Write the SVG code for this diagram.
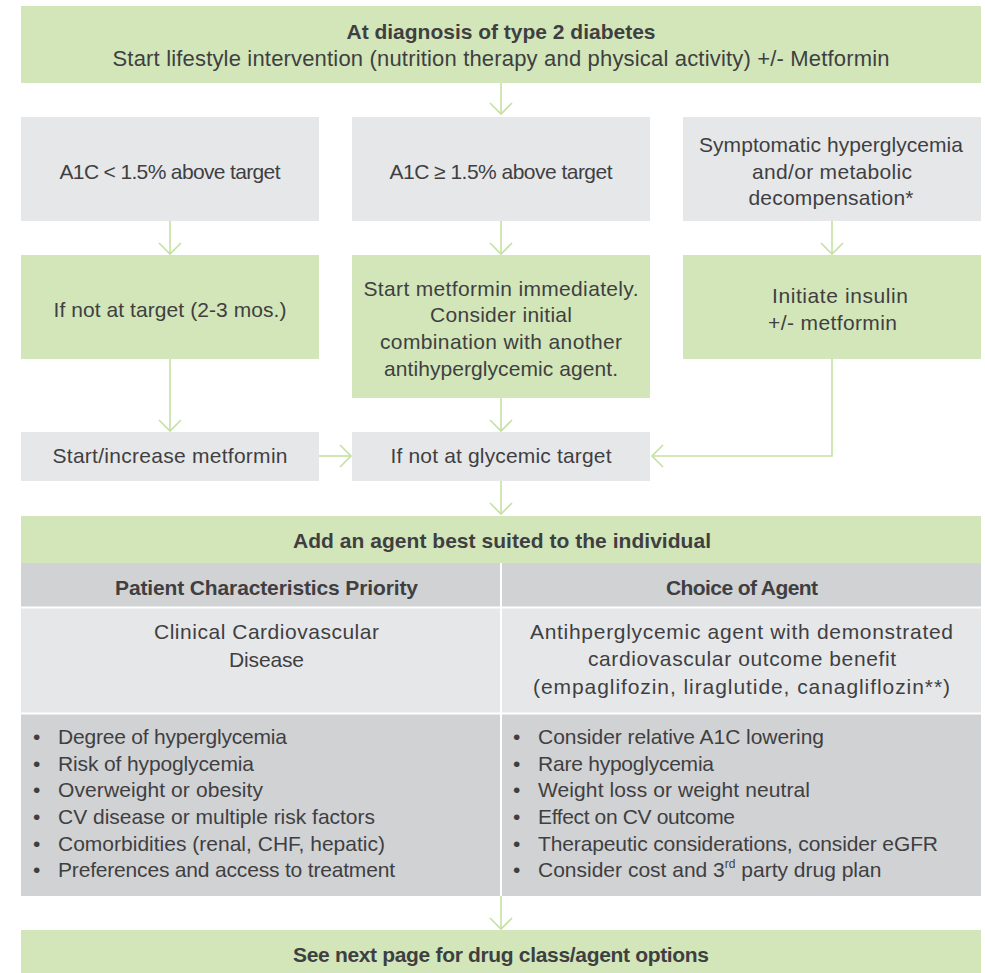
<svg xmlns="http://www.w3.org/2000/svg" width="985" height="973" viewBox="0 0 985 973">
<style>
.bg{fill:#ffffff}
.green{fill:#d2e6b9}
.grey{fill:#e6e7e9}
.dark{fill:#d1d2d4}
.t{font-family:"Liberation Sans",Arial,sans-serif;font-size:21px;fill:#3f3f42;text-anchor:middle}
.b{font-family:"Liberation Sans",Arial,sans-serif;font-size:21px;font-weight:bold;fill:#3f3f42;text-anchor:middle}
.l{font-family:"Liberation Sans",Arial,sans-serif;font-size:21px;fill:#3f3f42}
.c{fill:none;stroke:#c5e0a3;stroke-width:1.6}
.div{stroke:#ffffff;stroke-width:2}
</style>
<defs>
<marker id="ah" viewBox="0 0 24 24" refX="22" refY="12" markerWidth="24" markerHeight="24" markerUnits="userSpaceOnUse" orient="auto">
<path d="M11,1 L22,12 L11,23" fill="none" stroke="#c5e0a3" stroke-width="1.6"/>
</marker>
</defs>
<rect class="bg" x="0" y="0" width="985" height="973"/>

<g id="connectors">
<line class="c" x1="501" y1="83" x2="501" y2="114" marker-end="url(#ah)"/>
<line class="c" x1="170" y1="221" x2="170" y2="254" marker-end="url(#ah)"/>
<line class="c" x1="501" y1="221" x2="501" y2="254" marker-end="url(#ah)"/>
<line class="c" x1="832" y1="221" x2="832" y2="254" marker-end="url(#ah)"/>
<line class="c" x1="170" y1="359" x2="170" y2="431" marker-end="url(#ah)"/>
<line class="c" x1="501" y1="398" x2="501" y2="431" marker-end="url(#ah)"/>
<line class="c" x1="319" y1="456" x2="351" y2="456" marker-end="url(#ah)"/>
<polyline class="c" points="832,359 832,456 652,456" marker-end="url(#ah)"/>
<line class="c" x1="501" y1="481" x2="501" y2="514" marker-end="url(#ah)"/>
<line class="c" x1="501" y1="896" x2="501" y2="929" marker-end="url(#ah)"/>
</g>

<g id="n-diagnosis">
<rect class="green" x="21" y="6" width="960" height="77"/>
<text class="b" x="501" y="39" textLength="309">At diagnosis of type 2 diabetes</text>
<text class="t" x="501" y="66" style="font-size:22px" textLength="777">Start lifestyle intervention (nutrition therapy and physical activity) +/- Metformin</text>
</g>

<g id="n-a1c-low">
<rect class="grey" x="21" y="117" width="298" height="104"/>
<text class="t" x="170" y="179" textLength="221">A1C &lt; 1.5% above target</text>
</g>
<g id="n-a1c-high">
<rect class="grey" x="352" y="117" width="298" height="104"/>
<text class="t" x="501" y="179" textLength="223">A1C ≥ 1.5% above target</text>
</g>
<g id="n-symptomatic">
<rect class="grey" x="683" y="117" width="298" height="104"/>
<text class="t" x="831" y="152" textLength="264">Symptomatic hyperglycemia</text>
<text class="t" x="832" y="179" textLength="160">and/or metabolic</text>
<text class="t" x="831" y="205" textLength="165">decompensation*</text>
</g>

<g id="n-not-target">
<rect class="green" x="21" y="255" width="298" height="104"/>
<text class="t" x="170" y="317" textLength="233">If not at target (2-3 mos.)</text>
</g>
<g id="n-start-metformin">
<rect class="green" x="352" y="255" width="298" height="143"/>
<text class="t" x="501" y="296" textLength="275">Start metformin immediately.</text>
<text class="t" x="501" y="322" textLength="142">Consider initial</text>
<text class="t" x="501" y="349" textLength="242">combination with another</text>
<text class="t" x="501" y="376" textLength="234">antihyperglycemic agent.</text>
</g>
<g id="n-insulin">
<rect class="green" x="683" y="255" width="298" height="104"/>
<text class="t" x="840" y="303" textLength="136">Initiate insulin</text>
<text class="t" x="832.5" y="330" textLength="129">+/- metformin</text>
</g>

<g id="n-increase">
<rect class="grey" x="21" y="432" width="298" height="49"/>
<text class="t" x="170" y="463" textLength="235">Start/increase metformin</text>
</g>
<g id="n-glycemic">
<rect class="grey" x="352" y="432" width="298" height="49"/>
<text class="t" x="501" y="463" textLength="221">If not at glycemic target</text>
</g>

<g id="n-add-agent">
<rect class="green" x="21" y="516" width="960" height="47"/>
<text class="b" x="502" y="548" textLength="418">Add an agent best suited to the individual</text>
<rect class="dark" x="21" y="563" width="960" height="44"/>
<rect class="grey" x="21" y="608" width="960" height="105"/>
<rect class="dark" x="21" y="714" width="960" height="182"/>
<line class="div" x1="21" y1="607.5" x2="981" y2="607.5"/>
<line class="div" x1="21" y1="713.5" x2="981" y2="713.5"/>
<line class="div" x1="501" y1="563" x2="501" y2="896"/>
<text class="b" x="266.5" y="595" textLength="303">Patient Characteristics Priority</text>
<text class="b" x="742" y="595" textLength="152">Choice of Agent</text>
<text class="t" x="266.5" y="639" textLength="225">Clinical Cardiovascular</text>
<text class="t" x="266.5" y="667" textLength="75">Disease</text>
<text class="t" x="741.5" y="639" textLength="423">Antihperglycemic agent with demonstrated</text>
<text class="t" x="742" y="666" textLength="308">cardiovascular outcome benefit</text>
<text class="t" x="741.5" y="694" textLength="417">(empaglifozin, liraglutide, canagliflozin**)</text>
<g class="l">
<text x="33" y="744">•</text><text x="58" y="744" textLength="229">Degree of hyperglycemia</text>
<text x="33" y="771">•</text><text x="58" y="771" textLength="196">Risk of hypoglycemia</text>
<text x="33" y="797">•</text><text x="58" y="797" textLength="205">Overweight or obesity</text>
<text x="33" y="824">•</text><text x="58" y="824" textLength="317">CV disease or multiple risk factors</text>
<text x="33" y="851">•</text><text x="58" y="851" textLength="327">Comorbidities (renal, CHF, hepatic)</text>
<text x="33" y="877">•</text><text x="58" y="877" textLength="337">Preferences and access to treatment</text>
<text x="513" y="744">•</text><text x="538" y="744" textLength="286">Consider relative A1C lowering</text>
<text x="513" y="771">•</text><text x="538" y="771" textLength="176">Rare hypoglycemia</text>
<text x="513" y="797">•</text><text x="538" y="797" textLength="272">Weight loss or weight neutral</text>
<text x="513" y="824">•</text><text x="538" y="824" textLength="197">Effect on CV outcome</text>
<text x="513" y="851">•</text><text x="538" y="851" textLength="400">Therapeutic considerations, consider eGFR</text>
<text x="513" y="877">•</text><text x="538" y="877">Consider cost and 3<tspan font-size="12" dy="-9">rd</tspan><tspan dy="9"> party drug plan</tspan></text>
</g>
</g>

<g id="n-next-page">
<rect class="green" x="21" y="930" width="960" height="43"/>
<text class="b" x="501" y="962" textLength="416">See next page for drug class/agent options</text>
</g>
</svg>
